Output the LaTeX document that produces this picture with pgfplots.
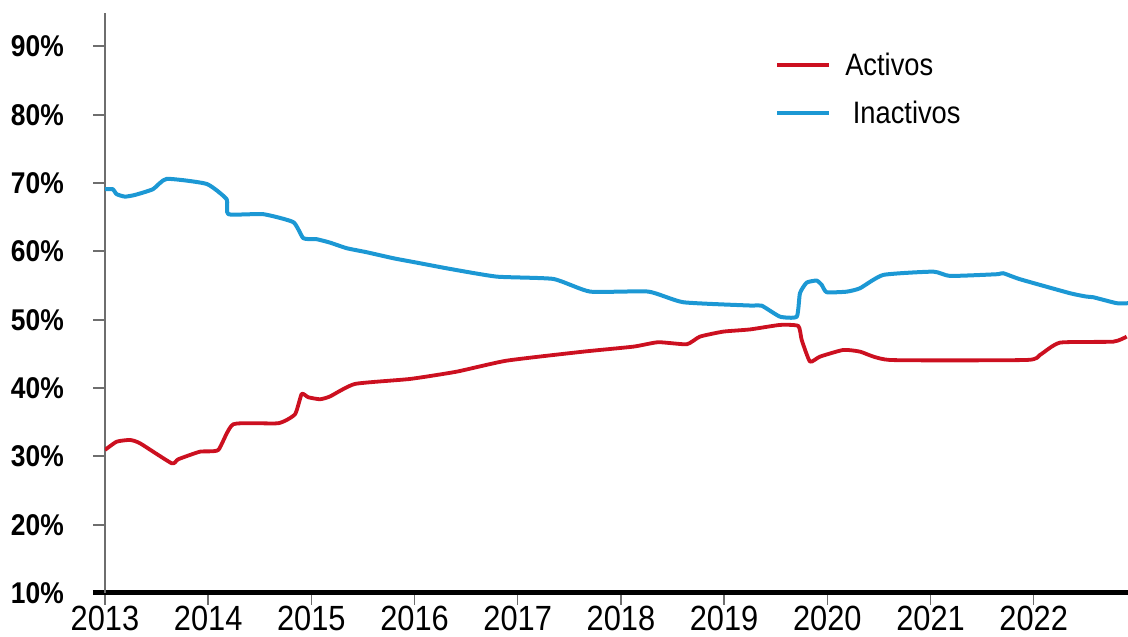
\documentclass[border=0pt]{standalone}
\usepackage{fontspec}
\setmainfont{Liberation Sans}[FakeStretch=0.88]
\usepackage{pgfplots}
\pgfplotsset{compat=1.18}

\definecolor{activos}{RGB}{204,16,32}
\definecolor{inactivos}{RGB}{28,152,212}
\definecolor{axgray}{RGB}{110,110,110}

\pgfplotstableread{
year val
2013.000 30.94
2013.113 32.15
2013.242 32.40
2013.339 31.92
2013.646 28.99
2013.710 29.58
2013.921 30.69
2014.098 30.94
2014.243 34.70
2014.679 34.85
2014.841 36.16
2014.906 39.14
2014.970 38.65
2015.083 38.36
2015.180 38.77
2015.422 40.60
2015.955 41.33
2016.408 42.40
2016.892 44.01
2017.635 45.33
2018.119 46.06
2018.361 46.71
2018.637 46.41
2018.765 47.53
2018.991 48.26
2019.250 48.58
2019.541 49.24
2019.718 49.09
2019.751 47.04
2019.831 43.87
2019.928 44.60
2020.154 45.58
2020.316 45.33
2020.607 44.11
2021.931 44.11
2022.060 44.85
2022.254 46.65
2022.770 46.79
2022.900 47.53
}\activos

\pgfplotstableread{
year val
2013.000 69.11
2013.075 69.11
2013.113 68.38
2013.194 68.02
2013.291 68.27
2013.465 69.11
2013.598 70.62
2013.985 69.88
2014.179 67.64
2014.195 65.45
2014.534 65.45
2014.825 64.28
2014.922 61.93
2015.051 61.79
2015.180 61.29
2015.342 60.47
2015.536 59.88
2015.794 59.00
2016.020 58.36
2016.343 57.44
2016.796 56.31
2017.344 55.97
2017.700 54.12
2018.265 54.12
2018.604 52.56
2019.250 52.08
2019.363 52.06
2019.541 50.45
2019.703 50.45
2019.734 53.88
2019.799 55.43
2019.896 55.73
2019.945 55.10
2019.993 54.03
2020.187 54.11
2020.316 54.61
2020.542 56.56
2021.026 57.04
2021.188 56.41
2021.640 56.66
2021.704 56.81
2021.866 55.93
2022.351 53.88
2022.513 53.38
2022.577 53.29
2022.803 52.42
2022.913 52.42
}\inactivos

\begin{document}
\begin{tikzpicture}
\begin{axis}[
    at={(0,0)}, anchor=south west,
    scale only axis,
    width=1023pt, height=580pt,
    xmin=2013, xmax=2022.913,
    ymin=10, ymax=94.9,
    axis lines=left,
    axis line style={-},
    x axis line style={black, line width=5pt, shorten <=-12pt},
    y axis line style={axgray, line width=2pt},
    tick align=outside,
    major tick length=12pt,
    xtick={2013,...,2022},
    ytick={10,20,...,90},
    minor tick num=0,
    x tick style={axgray, line width=1.5pt},
    y tick style={axgray, line width=2pt},
    /pgf/number format/assume math mode=true,
    xticklabel style={/pgf/number format/1000 sep={}, font=\fontsize{35}{38}\selectfont,
        anchor=north, inner sep=0pt, yshift=-1pt},
    yticklabel={\pgfmathprintnumber{\tick}\%},
    yticklabel style={font=\fontsize{30}{32}\selectfont\bfseries,
        anchor=east, inner sep=0pt, xshift=-29pt},
    legend style={at={(0.655,0.935)}, anchor=north west, draw=none, fill=none,
        inner sep=0pt, row sep=20pt, column sep=12pt, font=\fontsize{31}{33}\selectfont,
        legend cell align=left},
    legend image code/.code={\draw[#1] (0pt,0pt) -- (52pt,0pt);},
]
\addplot[activos, line width=3.8pt, line join=round, smooth, tension=0.3] table[x=year, y=val] {\activos};
\addlegendentry{Activos}
\addplot[inactivos, line width=4pt, line join=round, smooth, tension=0.3] table[x=year, y=val] {\inactivos};
\addlegendentry{\ Inactivos}
\end{axis}
\pgfresetboundingbox
\path (-105pt,-44pt) rectangle (1023pt,593pt);
\end{tikzpicture}
\end{document}
